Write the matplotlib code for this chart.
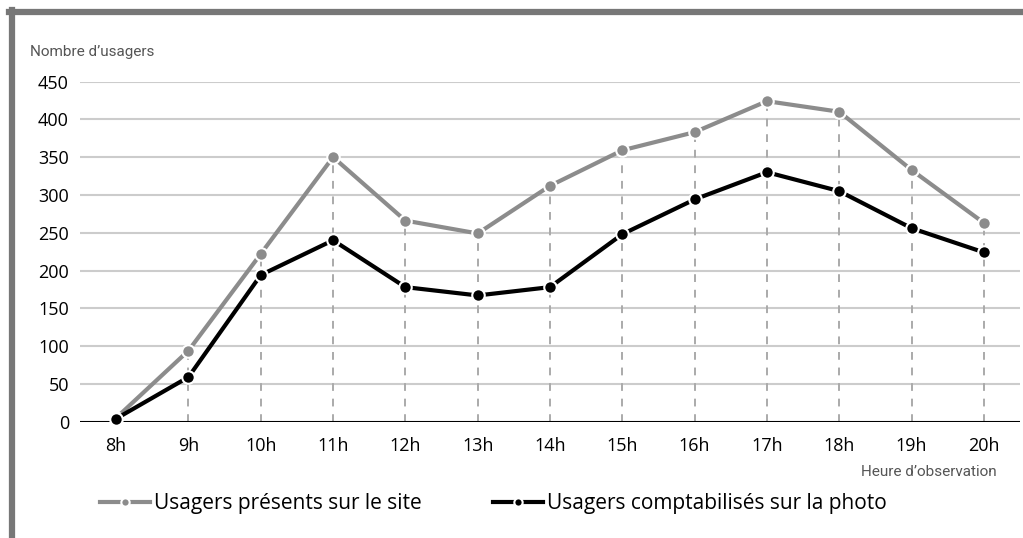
import matplotlib
matplotlib.use("Agg")
import matplotlib.pyplot as plt
from matplotlib.lines import Line2D
from matplotlib import font_manager

hours = ["8h", "9h", "10h", "11h", "12h", "13h", "14h", "15h", "16h", "17h", "18h", "19h", "20h"]
presents = [5, 94, 222, 350, 266, 249, 312, 359, 383, 424, 410, 333, 263]
photo = [4, 59, 194, 240, 178, 167, 178, 248, 294, 330, 305, 256, 224]
yticks = [0, 50, 100, 150, 200, 250, 300, 350, 400, 450]

names = {f.name for f in font_manager.fontManager.ttflist}
main_font = "Open Sans" if "Open Sans" in names else "DejaVu Sans"
narrow = "Roboto" if "Roboto" in names else main_font
plt.rcParams['font.family'] = [main_font, 'DejaVu Sans']

GRAY = "#8c8c8c"
fig = plt.figure(figsize=(10.23, 5.38), dpi=100)
ax = fig.add_axes([80/1023, 1-421.7/538, (1020-80)/1023, (421.7-81.5)/538])

x = list(range(len(hours)))
for i in x:
    top = max(presents[i], photo[i])
    ax.plot([i, i], [0, top], color="#aaaaaa", lw=1.4, ls=(0, (4, 4)), zorder=1)
for v in yticks[1:]:
    ax.axhline(v, color="#cccccc", lw=1.5, zorder=0)
ax.axhline(0, color="black", lw=1.5, zorder=2)

ax.plot(x, presents, color=GRAY, lw=3, marker="o", ms=9, mfc=GRAY, mec="white",
        mew=1.5, zorder=3, clip_on=False)
ax.plot(x, photo, color="black", lw=3, marker="o", ms=9, mfc="black", mec="white",
        mew=1.5, zorder=4, clip_on=False)

ax.set_xlim(-0.5, 12.5)
ax.set_ylim(0, 450)
ax.set_xticks(x)
ax.set_xticklabels(hours)
ax.set_yticks(yticks)
ax.tick_params(axis="both", length=0, labelsize=13)
ax.tick_params(axis="x", pad=11)
ax.tick_params(axis="y", pad=8)
for s in ax.spines.values():
    s.set_visible(False)

fig.text(30/1023, 1-52/538, "Nombre d\u2019usagers", color="#555555", fontsize=11,
         family=[narrow, 'DejaVu Sans'], ha="left", va="center")
fig.text(997/1023, 1-472/538, "Heure d\u2019observation", color="#555555", fontsize=11,
         family=[narrow, 'DejaVu Sans'], ha="right", va="center")

# frame borders
fig.add_artist(Line2D([9/1023, 1.0], [1-12/538, 1-12/538], color="#777777", lw=4.5,
                      transform=fig.transFigure))
fig.add_artist(Line2D([11.5/1023, 11.5/1023], [1-10/538, 0], color="#777777", lw=4.5,
                      transform=fig.transFigure))

h1 = Line2D([], [], color=GRAY, lw=3, marker="o", ms=6, mfc=GRAY, mec="white", mew=1.5)
h2 = Line2D([], [], color="black", lw=3, marker="o", ms=6, mfc="black", mec="white", mew=1.5)
fig.legend([h1, h2], ["Usagers présents sur le site", "Usagers comptabilisés sur la photo"],
           loc="center left", bbox_to_anchor=(100/1023, 1-504/538), ncol=2, frameon=False,
           fontsize=15, handlelength=2.4, handletextpad=0.2, columnspacing=3.4,
           borderpad=0, borderaxespad=0)

fig.savefig("out.png", dpi=100)
